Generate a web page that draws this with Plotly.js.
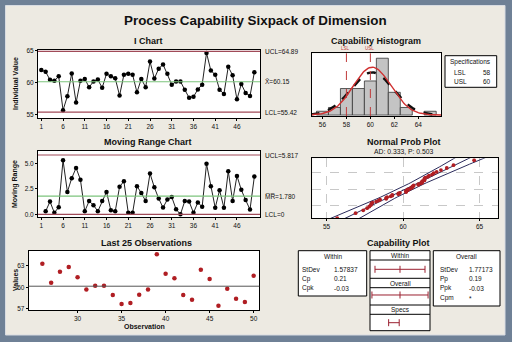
<!DOCTYPE html>
<html><head><meta charset="utf-8">
<script src="https://cdn.plot.ly/plotly-3.0.1.min.js"></script>
<style>html,body{margin:0;padding:0;background:#6f8196;}#c{width:512px;height:342px;}</style>
</head><body><div id="c"></div>
<script>
// ---------------- data ----------------
const observations = [62.0,61.7,60.45,60.3,61.0,55.7,57.9,61.45,56.9,60.3,
  60.6,59.3,60.2,60.5,59.2,61.4,61.0,60.7,58.0,61.25,
  61.4,61.25,58.5,60.6,59.3,63.3,60.65,62.2,62.86,61.4,
  59.7,60.2,60.2,58.9,57.65,57.8,58.96,59.7,64.65,61.9,
  61.26,58.9,58.25,62.48,61.17,57.4,59.8,58.4,57.93,61.63];
const iChartTicks = [1,6,11,16,21,26,31,36,41,46];
const last25Ticks = [30,35,40,45,50];
const histTicks = [56,58,60,62,64];
const probTicks = [55,60,65];
const MEAN = 60.15, UCL_I = 64.89, LCL_I = 55.42;
const MRBAR = 1.780, UCL_MR = 5.817, LCL_MR = 0;
const LSL = 58, USL = 60;
const SD_WITHIN = 1.57837, SD_OVERALL = 1.77173;
const withinStats = [["StDev","1.57837"],["Cp","0.21"],["Cpk","-0.03"]];
const overallStats = [["StDev","1.77173"],["Pp","0.19"],["Ppk","-0.03"],["Cpm","*"]];
const adText = "AD: 0.333, P: 0.503";

// ---------------- helpers ----------------
const W = 512, H = 342;
const F = "Liberation Sans, Arial, sans-serif";
const px = v => v / W, py = v => 1 - v / H;
const dX = (a, b) => [a / W, b / W];
const dY = (t, b) => [1 - b / H, 1 - t / H];
const n = observations.length;
const obsIdx = observations.map((_, i) => i + 1);
const mrX = [], mrY = [];
for (let i = 1; i < n; i++) { mrX.push(i + 1); mrY.push(Math.abs(observations[i] - observations[i - 1])); }
const last25X = obsIdx.slice(n - 25), last25Y = observations.slice(n - 25);

function qnorm(p){const a=[-3.969683028665376e+01,2.209460984245205e+02,-2.759285104469687e+02,1.383577518672690e+02,-3.066479806614716e+01,2.506628277459239e+00];const b=[-5.447609879822406e+01,1.615858368580409e+02,-1.556989798598866e+02,6.680131188771972e+01,-1.328068155288572e+01];const c=[-7.784894002430293e-03,-3.223964580411365e-01,-2.400758277161838e+00,-2.549732539343734e+00,4.374664141464968e+00,2.938163982698783e+00];const d=[7.784695709041462e-03,3.224671290700398e-01,2.445134137142996e+00,3.754408661907416e+00];const pl=0.02425;let q,r;if(p<pl){q=Math.sqrt(-2*Math.log(p));return(((((c[0]*q+c[1])*q+c[2])*q+c[3])*q+c[4])*q+c[5])/((((d[0]*q+d[1])*q+d[2])*q+d[3])*q+1);}if(p<=1-pl){q=p-0.5;r=q*q;return(((((a[0]*r+a[1])*r+a[2])*r+a[3])*r+a[4])*r+a[5])*q/(((((b[0]*r+b[1])*r+b[2])*r+b[3])*r+b[4])*r+1);}q=Math.sqrt(-2*Math.log(1-p));return-(((((c[0]*q+c[1])*q+c[2])*q+c[3])*q+c[4])*q+c[5])/((((d[0]*q+d[1])*q+d[2])*q+d[3])*q+1);}

const sorted = observations.slice().sort((a, b) => a - b);
const probZ = sorted.map((_, i) => qnorm((i + 1 - 0.3) / (n + 0.4)));
const zg = [], fitX = [], loX = [], hiX = [];
for (let z = -2.6; z <= 2.61; z += 0.1) {
  const se = SD_OVERALL * Math.sqrt(1 / n + z * z / (2 * (n - 1)));
  zg.push(z); fitX.push(MEAN + z * SD_OVERALL); loX.push(MEAN + z * SD_OVERALL - 1.96 * se); hiX.push(MEAN + z * SD_OVERALL + 1.96 * se);
}
const cx = [], cW = [], cO = [];
for (let x = 55.0; x <= 66.0; x += 0.1) {
  cx.push(x);
  cW.push(n * Math.exp(-0.5 * ((x - MEAN) / SD_WITHIN) ** 2) / (SD_WITHIN * Math.sqrt(2 * Math.PI)));
  cO.push(n * Math.exp(-0.5 * ((x - MEAN) / SD_OVERALL) ** 2) / (SD_OVERALL * Math.sqrt(2 * Math.PI)));
}

// ---------------- traces ----------------
const RED = "#b01e23", LIM = "#a04a58", GRN = "#7cc47c";
const traces = [
  {x: obsIdx, y: observations, xaxis: "x", yaxis: "y", mode: "lines+markers", line: {color: "#222", width: 1}, marker: {color: "#000", size: 4.5}},
  {x: mrX, y: mrY, xaxis: "x2", yaxis: "y2", mode: "lines+markers", line: {color: "#222", width: 1}, marker: {color: "#000", size: 4.5}},
  {x: last25X, y: last25Y, xaxis: "x3", yaxis: "y3", mode: "markers", marker: {color: RED, size: 4.5}},
  {x: observations, xaxis: "x4", yaxis: "y4", type: "histogram", xbins: {start: 55.5, end: 65.5, size: 1}, marker: {color: "#c4c4c4", line: {color: "#333", width: 0.8}}},
  {x: cx, y: cO, xaxis: "x4", yaxis: "y4", mode: "lines", line: {color: "#111", width: 2.4, dash: "dash"}},
  {x: cx, y: cW, xaxis: "x4", yaxis: "y4", mode: "lines", line: {color: "#d03030", width: 1.4}},
  {x: loX, y: zg, xaxis: "x5", yaxis: "y5", mode: "lines", line: {color: "#2c2c5c", width: 1}},
  {x: fitX, y: zg, xaxis: "x5", yaxis: "y5", mode: "lines", line: {color: "#2c2c5c", width: 1}},
  {x: hiX, y: zg, xaxis: "x5", yaxis: "y5", mode: "lines", line: {color: "#2c2c5c", width: 1}},
  {x: sorted, y: probZ, xaxis: "x5", yaxis: "y5", mode: "markers", marker: {color: RED, size: 3.8}},
  // capability plot intervals
  {x: [MEAN - 3 * SD_WITHIN, MEAN, MEAN + 3 * SD_WITHIN], y: [61.4, 61.4, 61.4], xaxis: "x6", yaxis: "y6", mode: "lines+markers", line: {color: "#9b2030", width: 1}, marker: {symbol: "line-ns-open", size: 5, color: "#9b2030", line: {width: 1, color: "#9b2030"}}},
  {x: [MEAN - 3 * SD_OVERALL, MEAN, MEAN + 3 * SD_OVERALL], y: [35.7, 35.7, 35.7], xaxis: "x6", yaxis: "y6", mode: "lines+markers", line: {color: "#9b2030", width: 1}, marker: {symbol: "line-ns-open", size: 5, color: "#9b2030", line: {width: 1, color: "#9b2030"}}},
  {x: [LSL, USL], y: [8, 8], xaxis: "x6", yaxis: "y6", mode: "lines+markers", line: {color: "#9b2030", width: 1}, marker: {symbol: "line-ns-open", size: 5, color: "#9b2030", line: {width: 1, color: "#9b2030"}}}
];
traces.forEach(t => { t.showlegend = false; t.hoverinfo = "skip"; });

// ---------------- axes ----------------
function ax(domain, range, anchor, extra) {
  return Object.assign({domain, range, anchor, showline: true, mirror: true, linecolor: "#000", linewidth: 1,
    ticks: "outside", ticklen: 2, tickcolor: "#000", tickwidth: 1, tickfont: {family: F, size: 6.5, color: "#111"},
    showgrid: false, zeroline: false, fixedrange: true, autorange: false}, extra || {});
}
const layout = {
  width: W, height: H, margin: {l: 0, r: 0, t: 0, b: 0},
  paper_bgcolor: "#edeae2", plot_bgcolor: "#ffffff", showlegend: false, bargap: 0,
  font: {family: F},
  xaxis: ax(dX(38, 260), [0.24, 51.3], "y", {tickmode: "array", tickvals: iChartTicks}),
  yaxis: ax(dY(49.7, 118.3), [54.44, 65.16], "x", {tickmode: "array", tickvals: [55, 60, 65]}),
  xaxis2: ax(dX(38, 260), [0.24, 51.3], "y2", {tickmode: "array", tickvals: iChartTicks}),
  yaxis2: ax(dY(150.7, 217.3), [-0.29, 6.24], "x2", {tickmode: "array", tickvals: [0, 2.5, 5], ticktext: ["0.0", "2.5", "5.0"]}),
  xaxis3: ax(dX(28.7, 259.3), [24.45, 50.64], "y3", {tickmode: "array", tickvals: last25Ticks}),
  yaxis3: ax(dY(250.7, 310), [56.8, 65.15], "x3", {tickmode: "array", tickvals: [57, 60, 63]}),
  xaxis4: ax(dX(311.7, 441), [55.1, 65.9], "y4", {tickmode: "array", tickvals: histTicks}),
  yaxis4: ax(dY(53.3, 116), [-0.25, 16.3], "x4", {showticklabels: false, ticks: ""}),
  xaxis5: ax(dX(312.3, 497.7), [54.07, 66.19], "y5", {tickmode: "array", tickvals: probTicks, showgrid: true, gridcolor: "#c8c8c8", griddash: "dash", gridwidth: 1}),
  yaxis5: ax(dY(158.3, 218.3), [-2.22, 2.35], "x5", {showticklabels: false, ticks: "", tickmode: "array", tickvals: [-1.2816, 0, 1.2816], showgrid: true, gridcolor: "#c8c8c8", griddash: "dash", gridwidth: 1}),
  xaxis6: ax(dX(370, 430), [54.47, 65.83], "y6", {showticklabels: false, ticks: "", showline: false, mirror: false}),
  yaxis6: ax(dY(250.7, 330.7), [0, 80], "x6", {showticklabels: false, ticks: "", showline: false, mirror: false}),
  shapes: [], annotations: []
};

// reference lines
function hline(xr, yr, y, color, width, dash) {
  layout.shapes.push({type: "line", xref: xr + " domain", yref: yr, x0: 0, x1: 1, y0: y, y1: y, line: {color, width: width || 1, dash: dash || "solid"}, layer: "above"});
}
hline("x", "y", UCL_I, LIM, 1.2); hline("x", "y", LCL_I, LIM, 1.2); hline("x", "y", MEAN, GRN, 1.2);
hline("x2", "y2", UCL_MR, LIM, 1.2); hline("x2", "y2", LCL_MR, LIM, 1.2); hline("x2", "y2", MRBAR, GRN, 1.2);
hline("x3", "y3", MEAN, "#555", 1);
[LSL, USL].forEach(v => layout.shapes.push({type: "line", xref: "x4", yref: "y4 domain", x0: v, x1: v, y0: 0, y1: 1, line: {color: "#c03a3a", width: 1, dash: "dash"}}));

// boxes (paper px)
function rect(x0, y0, x1, y1, fill, lineColor, lw, layer) {
  layout.shapes.push({type: "rect", xref: "paper", yref: "paper", x0: px(x0), x1: px(x1), y0: py(y1), y1: py(y0),
    fillcolor: fill || "rgba(0,0,0,0)", line: {color: lineColor || "rgba(0,0,0,0)", width: lw === undefined ? 1 : lw}, layer: layer || "above"});
}
function seg(x0, y0, x1, y1, color, lw) {
  layout.shapes.push({type: "line", xref: "paper", yref: "paper", x0: px(x0), x1: px(x1), y0: py(y0), y1: py(y1), line: {color, width: lw || 1}});
}
rect(445, 55.7, 496.7, 87.3, "#fff", "#000", 1, "below");
rect(298.3, 250.7, 366.7, 296, "#fff", "#000", 1, "below");
rect(433.3, 250.7, 500, 306, "#fff", "#000", 1, "below");
rect(370, 250.7, 430, 330.7, "rgba(0,0,0,0)", "#000", 1);
[260, 278.3, 287.7, 305, 314.3].forEach(y => seg(370, y, 430, y, "#000", 1));
// window frame
const SL = "#6f8196";
rect(0, 0, 512, 5.5, SL, SL, 0); rect(0, 0, 5.5, 342, SL, SL, 0);
rect(505, 0, 512, 342, SL, SL, 0); rect(0, 335, 512, 342, SL, SL, 0);
rect(5.5, 5.5, 505, 335, "rgba(0,0,0,0)", "#d8dce2", 1);

// text
function txt(text, x, y, size, opts) {
  layout.annotations.push(Object.assign({text, xref: "paper", yref: "paper", x: px(x), y: py(y), showarrow: false,
    font: {family: F, size, color: "#111"}, xanchor: "center", yanchor: "middle"}, opts || {}));
}
const B = s => "<b>" + s + "</b>";
txt(B("Process Capability Sixpack of Dimension"), 255, 21, 13.4);
txt(B("I Chart"), 148, 41, 9);
txt(B("Moving Range Chart"), 148, 142, 9);
txt(B("Last 25 Observations"), 146.7, 243.3, 9);
txt(B("Capability Histogram"), 376, 40.5, 9);
txt(B("Normal Prob Plot"), 404, 142, 9);
txt(adText, 404, 151.7, 6.8);
txt(B("Capability Plot"), 398, 243.3, 9);
txt(B("Individual Value"), 15, 84, 7, {textangle: -90});
txt(B("Moving Range"), 15, 184, 7, {textangle: -90});
txt(B("Values"), 15, 280, 7, {textangle: -90});
txt(B("Observation"), 144, 326.5, 7);
// limit labels
function lim(text, xr, yr, y) {
  layout.annotations.push({text, xref: "paper", yref: yr, x: px(263), y, showarrow: false, xanchor: "left", yanchor: "middle",
    font: {family: F, size: 6.5, color: "#111"}});
}
lim("UCL=" + UCL_I.toFixed(2), "x", "y", UCL_I);
lim("X\u0304=" + MEAN.toFixed(2), "x", "y", MEAN);
lim("LCL=" + LCL_I.toFixed(2), "x", "y", LCL_I);
lim("UCL=" + UCL_MR.toFixed(3), "x2", "y2", UCL_MR);
lim("M\u0305R\u0305=" + MRBAR.toFixed(3), "x2", "y2", MRBAR);
lim("LCL=" + LCL_MR, "x2", "y2", LCL_MR);
// LSL / USL labels
txt("LSL", 345, 49, 4.5, {font: {family: F, size: 4.5, color: "#c03a3a"}});
txt("USL", 369, 49, 4.5, {font: {family: F, size: 4.5, color: "#c03a3a"}});
// spec box
txt("Specifications", 470.8, 61.5, 6.5);
txt("LSL", 452, 72, 6.5, {xanchor: "left"}); txt(String(LSL), 481, 72, 6.5, {xanchor: "left"});
txt("USL", 452, 82, 6.5, {xanchor: "left"}); txt(String(USL), 481, 82, 6.5, {xanchor: "left"});
// capability boxes
txt("Within", 332.5, 256, 6.5);
withinStats.forEach((r, i) => { const y = 269 + i * 9.7; txt(r[0], 300, y, 6.5, {xanchor: "left"}); txt(r[1], 332, y, 6.5, {xanchor: "left"}); });
txt("Overall", 466.7, 256, 6.5);
overallStats.forEach((r, i) => { const y = 269 + i * 9.7; txt(r[0], 437.5, y, 6.5, {xanchor: "left"}); txt(r[1], 467, y, 6.5, {xanchor: "left"}); });
txt("Within", 400, 255.3, 6.5);
txt("Overall", 400, 283, 6.5);
txt("Specs", 400, 309.7, 6.5);

Plotly.newPlot("c", traces, layout, {staticPlot: true, displayModeBar: false});
</script></body></html>
